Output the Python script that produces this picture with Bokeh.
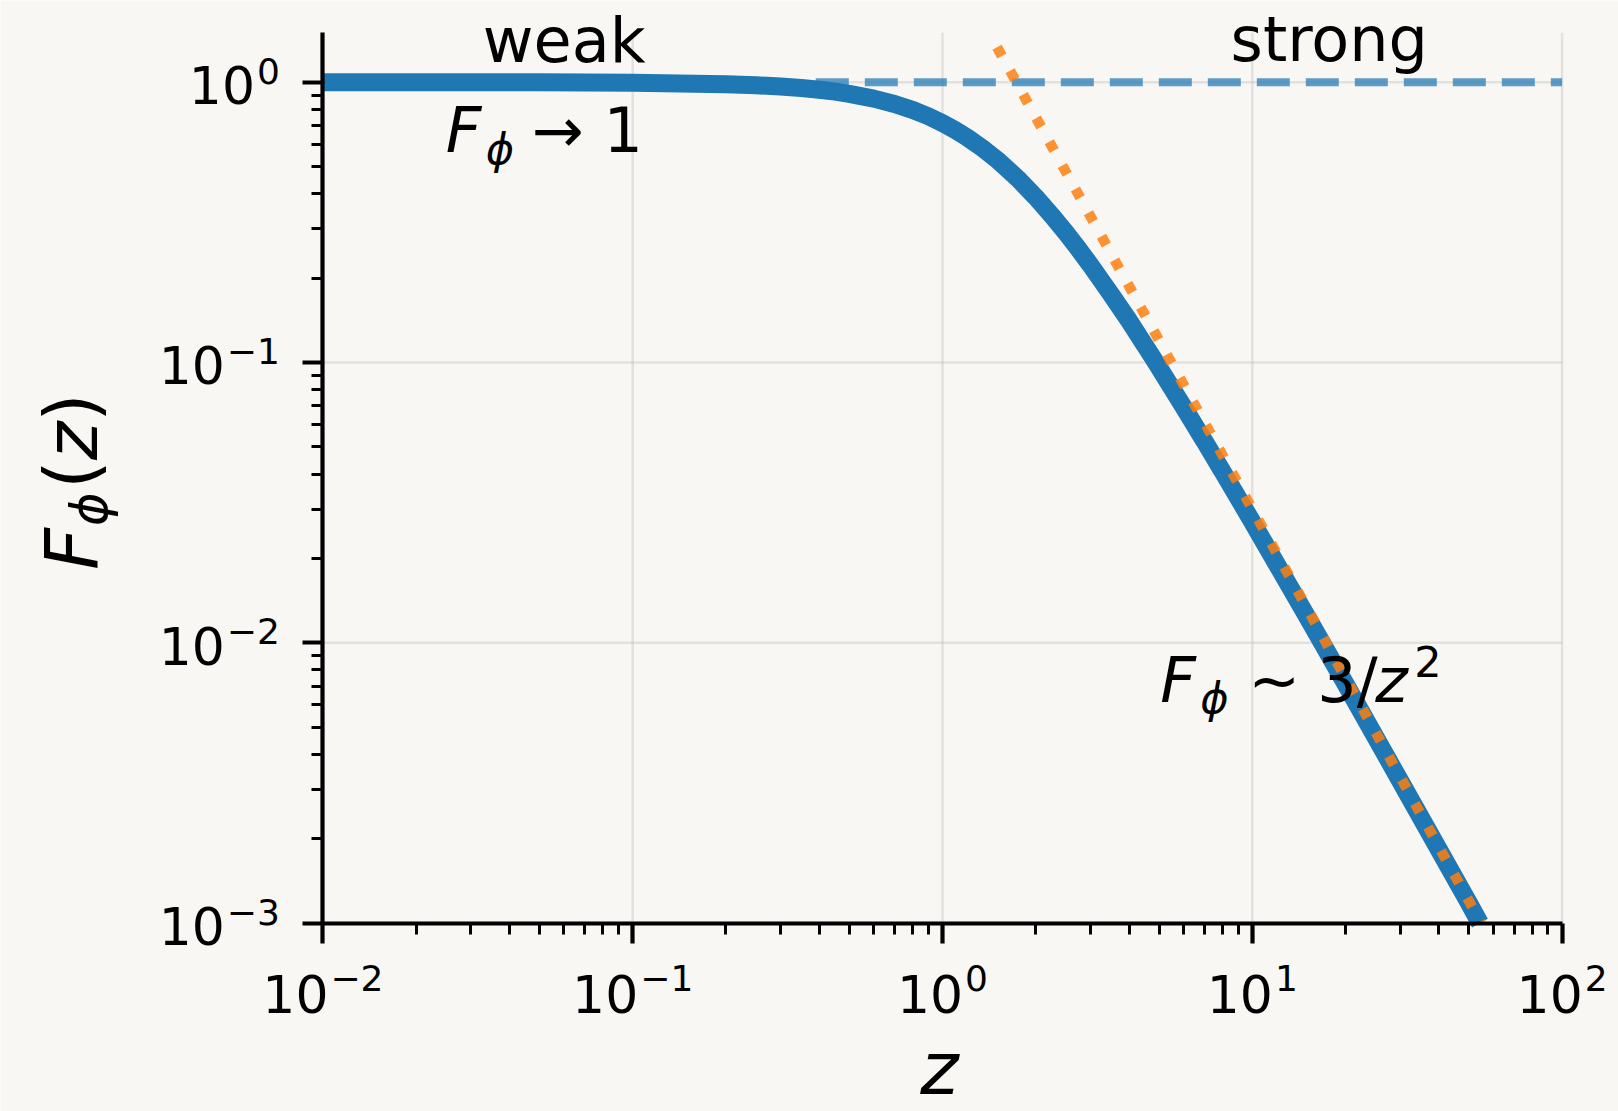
import math
from bokeh.plotting import figure
from bokeh.models import Range1d, FixedTicker, Label
from bokeh.embed import file_html
from bokeh.resources import INLINE

# ---- data ----
z_curve = [0.01, 0.02, 0.05, 0.1, 0.2, 0.25, 0.3, 0.35, 0.4, 0.45, 0.5, 0.6, 0.7,
           0.8, 0.9, 1.0, 1.1, 1.2, 1.35, 1.5, 1.75, 2.0, 2.25, 2.5, 2.75, 3.0,
           3.5, 4.0, 4.5, 5.0, 6.0, 7.0, 8.0, 10.0, 15.0, 20.0, 30.0, 40.0,
           50.0, 54.3]
F_curve = [1.0, 0.9998, 0.999, 0.996, 0.984, 0.9756, 0.965, 0.9533, 0.940,
           0.9251, 0.909, 0.874, 0.836, 0.797, 0.756, 0.715, 0.675, 0.636,
           0.580, 0.529, 0.453, 0.389, 0.335, 0.291, 0.254, 0.223, 0.175,
           0.141, 0.1152, 0.096, 0.0694, 0.0525, 0.0410, 0.0270, 0.01244,
           0.00713, 0.00322, 0.00183, 0.00118, 0.00100]

z_strong = [1.5, 3.0, 10.0, 30.0, 54.8]
F_strong = [1.333, 0.333, 0.030, 0.00333, 0.00100]

z_weak = [0.39, 100.0]
F_weak = [1.0, 1.0]

x_lim = (0.01, 100.0)
y_lim = (0.001, 1.5)
x_major = [0.01, 0.1, 1.0, 10.0, 100.0]
x_tick_exps = ["\u22122", "\u22121", "0", "1", "2"]
y_major = [0.001, 0.01, 0.1, 1.0]
y_tick_exps = ["\u22123", "\u22122", "\u22121", "0"]

x_minor = [m * d for d in [0.01, 0.1, 1.0, 10.0] for m in range(2, 10)]
y_minor = [m * d for d in [0.001, 0.01, 0.1] for m in range(2, 10)]

BG = "#f8f7f4"
FONT = "DejaVu Sans"

# the frame covers the whole canvas; the axes sit at fixed locations inside it
p = figure(width=1618, height=1111, x_axis_type="log", y_axis_type="log",
           x_range=Range1d(10 ** -3.0407, 10 ** 2.1821),
           y_range=Range1d(10 ** -3.6722, 10 ** 0.2915),
           output_backend="svg", toolbar_location=None,
           min_border=0, min_border_left=0, min_border_right=0,
           min_border_top=0, min_border_bottom=0)
p.title.visible = False
p.background_fill_color = BG
p.border_fill_color = BG
p.outline_line_color = None
p.xgrid.visible = False
p.ygrid.visible = False

p.xaxis.ticker = FixedTicker(ticks=x_major, minor_ticks=x_minor)
p.yaxis.ticker = FixedTicker(ticks=y_major, minor_ticks=y_minor)
p.xaxis.major_label_overrides = {t: "" for t in x_major}
p.yaxis.major_label_overrides = {t: "" for t in y_major}
p.xaxis.fixed_location = y_lim[0]
p.yaxis.fixed_location = x_lim[0]
p.xaxis.bounds = x_lim
p.yaxis.bounds = y_lim

for ax in (p.xaxis, p.yaxis):
    ax.axis_line_width = 4.2
    ax.axis_line_color = "black"
    ax.major_tick_line_width = 4.2
    ax.minor_tick_line_width = 3.0
    ax.major_tick_line_color = "black"
    ax.minor_tick_line_color = "black"
    ax.major_tick_in = 0
    ax.major_tick_out = 20
    ax.minor_tick_in = 0
    ax.minor_tick_out = 11
    ax.major_label_text_font_size = "1px"
    ax.major_label_standoff = 0

# grid lines at the major ticks, spanning the axes box
gx = [[t, t] for t in x_major] + [list(x_lim) for _ in y_major]
gy = [list(y_lim) for _ in x_major] + [[t, t] for t in y_major]
p.multi_line(gx, gy, line_color="#b0b0b0", line_alpha=0.3, line_width=2.5)

# curves
p.line(z_curve, F_curve, line_color="#1f77b4", line_width=18)
p.line(z_weak, F_weak, line_color="#1f77b4", line_alpha=0.72, line_width=8,
       line_dash="33 16")
p.line(z_strong, F_strong, line_color="#ff7f0e", line_alpha=0.85, line_width=10.4,
       line_dash="10 17")

BASELINE_FIX = 0.37  # em; brings the alphabetic baseline onto the anchor


def lab(x, y, text, size, italic=False, align="left", xo=0.0, yo=0.0, angle=0.0):
    if angle == 0:
        yo += BASELINE_FIX * size
    else:
        xo -= BASELINE_FIX * size
    p.add_layout(Label(x=x, y=y, text=text, text_font=FONT,
                       text_font_size=f"{size}px",
                       text_font_style="italic" if italic else "normal",
                       text_align=align, text_baseline="alphabetic",
                       text_color="black", x_offset=xo, y_offset=yo,
                       angle=angle))


# tick labels: "10" with a raised, smaller exponent
BASE, EXP = 52, 36
W10 = 1.272 * BASE


def exp_w(s):
    return sum(0.838 * EXP if c == "\u2212" else 0.636 * EXP for c in s)


for t, e in zip(x_major, x_tick_exps):
    left = -(W10 + 2 + exp_w(e)) / 2
    lab(t, y_lim[0], "10", BASE, xo=left, yo=-90)
    lab(t, y_lim[0], e, EXP, xo=left + W10 + 2, yo=-68)

for t, e in zip(y_major, y_tick_exps):
    lab(x_lim[0], t, e, EXP, align="right", xo=-43, yo=-2)
    lab(x_lim[0], t, "10", BASE, align="right", xo=-43 - exp_w(e) - 2, yo=-22)

# annotations
lab(0.0601, 1.166, "weak", 62, align="center")
lab(17.72, 1.176, "strong", 62, align="center")

lab(0.02493, 0.5564, "F", 62, italic=True)
lab(0.03356, 0.5082, "\u03d5", 43, italic=True)
lab(0.04722, 0.5564, "\u2192 1", 62)

lab(5.050, 0.006090, "F", 62, italic=True)
lab(6.797, 0.005564, "\u03d5", 43, italic=True)
lab(9.708, 0.006090, "\u223c", 62)
lab(16.20, 0.006090, "3/", 62)
lab(24.94, 0.006090, "z", 62, italic=True)
lab(33.3, 0.007542, "2", 43)

# axis labels
lab(1.0, y_lim[0], "z", 73, italic=True, align="center", xo=-3, yo=-172)
A = math.pi / 2
lab(x_lim[0], 0.01818, "F", 73, italic=True, xo=-224, angle=A)
lab(x_lim[0], 0.02611, "\u03d5", 51, italic=True, xo=-215, angle=A)
lab(x_lim[0], 0.03539, "(", 73, xo=-224, angle=A)
lab(x_lim[0], 0.04493, "z", 73, italic=True, xo=-224, angle=A)
lab(x_lim[0], 0.06140, ")", 73, xo=-224, angle=A)

open("out.html", "w").write(file_html(p, INLINE))
